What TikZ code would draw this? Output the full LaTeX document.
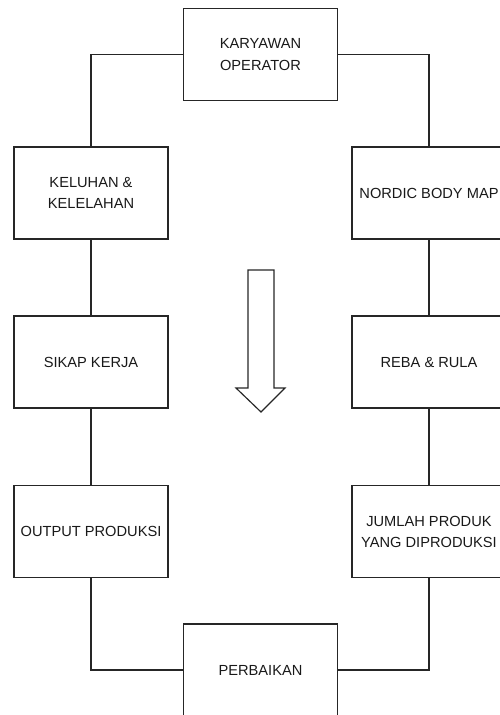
\documentclass[tikz,border=0pt]{standalone}
\usepackage{fontspec}
\setmainfont{Liberation Sans}
\begin{document}
\begin{tikzpicture}[x=0.03cm,y=-0.03cm,
  kotak/.style={draw=black!85,line width=1pt,minimum width=4.62cm,minimum height=2.76cm,
    align=center,font=\fontsize{12.5}{18}\selectfont,text=black!90},
  garis/.style={draw=black!85,line width=1pt}]
\useasboundingbox (0,0) rectangle (500,715);

\node[kotak] (karyawan) at (260.5,54.5) {KARYAWAN\\OPERATOR};

\node[kotak] (keluhan) at (91,193) {KELUHAN \&\\KELELAHAN};
\node[kotak] (sikap) at (91,362) {SIKAP KERJA};
\node[kotak] (output) at (91,531.5) {OUTPUT PRODUKSI};

\node[kotak] (nordic) at (429,193) {NORDIC BODY MAP};
\node[kotak] (reba) at (429,362) {REBA \& RULA};
\node[kotak] (jumlah) at (429,531.5) {JUMLAH PRODUK\\YANG DIPRODUKSI};

\node[kotak] (perbaikan) at (260.5,670) {PERBAIKAN};

\draw[garis] (karyawan.west) -| (keluhan.north);
\draw[garis] (karyawan.east) -| (nordic.north);
\draw[garis] (keluhan) -- (sikap);
\draw[garis] (sikap) -- (output);
\draw[garis] (nordic) -- (reba);
\draw[garis] (reba) -- (jumlah);
\draw[garis] (output.south) |- (perbaikan.west);
\draw[garis] (jumlah.south) |- (perbaikan.east);

\draw[garis] (248,270) -- (274,270) -- (274,388) -- (285,388) -- (261,412)
  -- (236,388) -- (248,388) -- cycle;
\end{tikzpicture}
\end{document}
